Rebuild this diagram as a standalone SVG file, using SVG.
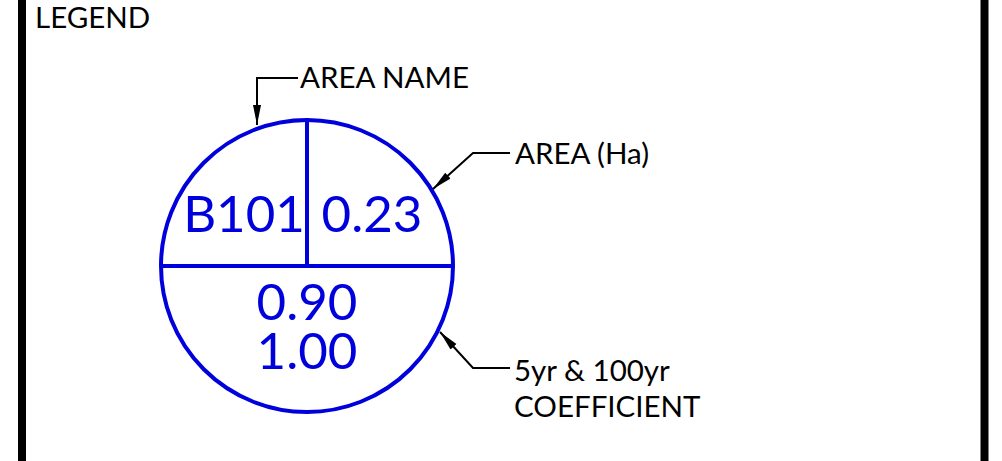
<svg xmlns="http://www.w3.org/2000/svg" width="1002" height="461" viewBox="0 0 1002 461">
<style>
.lbl{font-family:Lato,"Open Sans","Liberation Sans",sans-serif;font-size:29.5px;fill:#000}
.val{font-family:Lato,"Open Sans","Liberation Sans",sans-serif;font-size:51px;fill:#0000dd}
.blue{stroke:#0000dd;stroke-width:4;fill:none}
.lead{stroke:#000;stroke-width:2;fill:none;marker-end:url(#arr)}
</style>
<defs>
<marker id="arr" viewBox="0 0 20 10" refX="20" refY="5" markerWidth="20" markerHeight="10" markerUnits="userSpaceOnUse" orient="auto">
<path d="M0,1 L20,5 L0,9 Z" fill="#000"/>
</marker>
</defs>
<rect width="1002" height="461" fill="#fff"/>
<g id="frame">
<line x1="22" y1="0" x2="22" y2="461" stroke="#000" stroke-width="8"/>
<line x1="984.5" y1="0" x2="984.5" y2="461" stroke="#000" stroke-width="8"/>
<text class="lbl" x="35" y="28">LEGEND</text>
</g>
<g id="symbol">
<circle class="blue" cx="307" cy="266" r="146"/>
<line class="blue" x1="161" y1="266" x2="453" y2="266"/>
<line class="blue" x1="307" y1="120" x2="307" y2="266"/>
<text class="val" x="244" y="232" text-anchor="middle">B101</text>
<text class="val" x="372" y="232" text-anchor="middle">0.23</text>
<text class="val" x="307" y="320" text-anchor="middle">0.90</text>
<text class="val" x="307" y="369" text-anchor="middle">1.00</text>
</g>
<g id="labels">
<text class="lbl" x="300" y="88">AREA NAME</text>
<text class="lbl" x="515" y="164">AREA (Ha)</text>
<text class="lbl" x="514" y="381">5yr &amp; 100yr</text>
<text class="lbl" x="514" y="417">COEFFICIENT</text>
</g>
<g id="connectors">
<path class="lead" d="M298,78 H257 V125"/>
<path class="lead" d="M510,153 H473 L433,189"/>
<path class="lead" d="M510,368 H473 L440,332"/>
</g>
</svg>
